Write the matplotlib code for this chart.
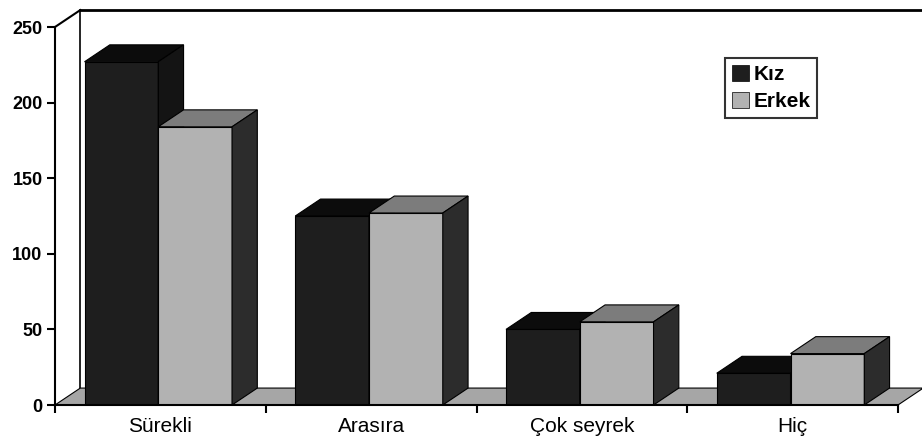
import matplotlib.pyplot as plt
from matplotlib.patches import Polygon, Patch

# Veriler
kategoriler = ['Sürekli', 'Arasıra', 'Çok seyrek', 'Hiç']
seriler = ['Kız', 'Erkek']
kiz = [227, 125, 50, 21]
erkek = [184, 127, 55, 34]
y_ticks = [0, 50, 100, 150, 200, 250]

# Renkler: ön yüz, üst yüz, yan yüz
renk_kiz = ('#1e1e1e', '#0c0c0c', '#141414')
renk_erkek = ('#b2b2b2', '#7c7c7c', '#2c2c2c')
zemin_renk = '#a6a6a6'

genislik = 0.35   # çubuk genişliği
bosluk = 0.14     # kategori başındaki boşluk
dx = 0.12         # derinlik (x birimi)
dy = 11.2         # derinlik (değer birimi)

plt.rcParams['font.family'] = ['Liberation Sans', 'DejaVu Sans']

fig = plt.figure(figsize=(9.22, 4.43), dpi=100)
ax = fig.add_axes([55/922, 38/443, 867/922, 395/443])
xmax = 867/210.75
ax.set_xlim(0, xmax)
ax.set_ylim(0, 395/1.512)

n = len(kategoriler)
z = 2

# Zemin
zemin = Polygon([(0, 0), (n, 0), (n + dx, dy), (dx, dy)], closed=True,
                facecolor=zemin_renk, edgecolor='black', lw=0.8, zorder=z)
ax.add_patch(zemin)

# Arka duvar çizgileri
ax.plot([dx, dx], [dy, y_ticks[-1] + dy], color='black', lw=1.2, zorder=1)
ax.plot([dx, xmax], [y_ticks[-1] + dy, y_ticks[-1] + dy], color='black', lw=2, clip_on=False, zorder=1)
ax.plot([0, dx], [y_ticks[-1], y_ticks[-1] + dy], color='black', lw=1.5, clip_on=False, zorder=1)


def kutu(x0, h, renkler, z):
    on, ust, yan = renkler
    ax.bar(x0, h, genislik, align='edge', color=on, edgecolor='black', lw=0.8, zorder=z)
    ust_p = Polygon([(x0, h), (x0 + genislik, h), (x0 + genislik + dx, h + dy), (x0 + dx, h + dy)],
                    closed=True, facecolor=ust, edgecolor='black', lw=0.8, zorder=z)
    yan_p = Polygon([(x0 + genislik, 0), (x0 + genislik + dx, dy), (x0 + genislik + dx, h + dy), (x0 + genislik, h)],
                    closed=True, facecolor=yan, edgecolor='black', lw=0.8, zorder=z)
    ax.add_patch(ust_p)
    ax.add_patch(yan_p)


for i in range(n):
    z += 1
    kutu(i + bosluk, kiz[i], renk_kiz, z)
    z += 1
    kutu(i + bosluk + genislik, erkek[i], renk_erkek, z)

# Eksenler
for s in ['top', 'right']:
    ax.spines[s].set_visible(False)
ax.spines['left'].set_bounds(0, y_ticks[-1])
ax.spines['bottom'].set_bounds(0, n)
ax.spines['left'].set_linewidth(1.5)
ax.spines['bottom'].set_linewidth(1.5)
ax.spines['left'].set_zorder(50)
ax.spines['bottom'].set_zorder(50)

ax.set_yticks(y_ticks)
ax.set_yticklabels([str(v) for v in y_ticks], fontsize=13, fontweight='bold')
ax.tick_params(axis='y', direction='out', length=6, width=1.5, pad=3)

ax.set_xticks([i + 0.5 for i in range(n)])
ax.set_xticklabels(kategoriler, fontsize=15)
ax.set_xticks(list(range(n + 1)), minor=True)
ax.tick_params(axis='x', which='major', length=0, pad=9)
ax.tick_params(axis='x', which='minor', direction='out', length=6, width=1.5)

# Lejant
handles = [Patch(facecolor=renk_kiz[0], edgecolor='black', lw=0.5),
           Patch(facecolor=renk_erkek[0], edgecolor='black', lw=0.5)]
leg = fig.legend(handles, seriler, loc='upper left', bbox_to_anchor=(725/922, 1 - 58/443),
                 frameon=True, fancybox=False, edgecolor='black', handlelength=0.8, handleheight=0.8,
                 handletextpad=0.2, labelspacing=0.35, borderpad=0.35, borderaxespad=0,
                 prop={'weight': 'bold', 'size': 15})
leg.get_frame().set_linewidth(1.5)

plt.savefig('out.png', dpi=100)
